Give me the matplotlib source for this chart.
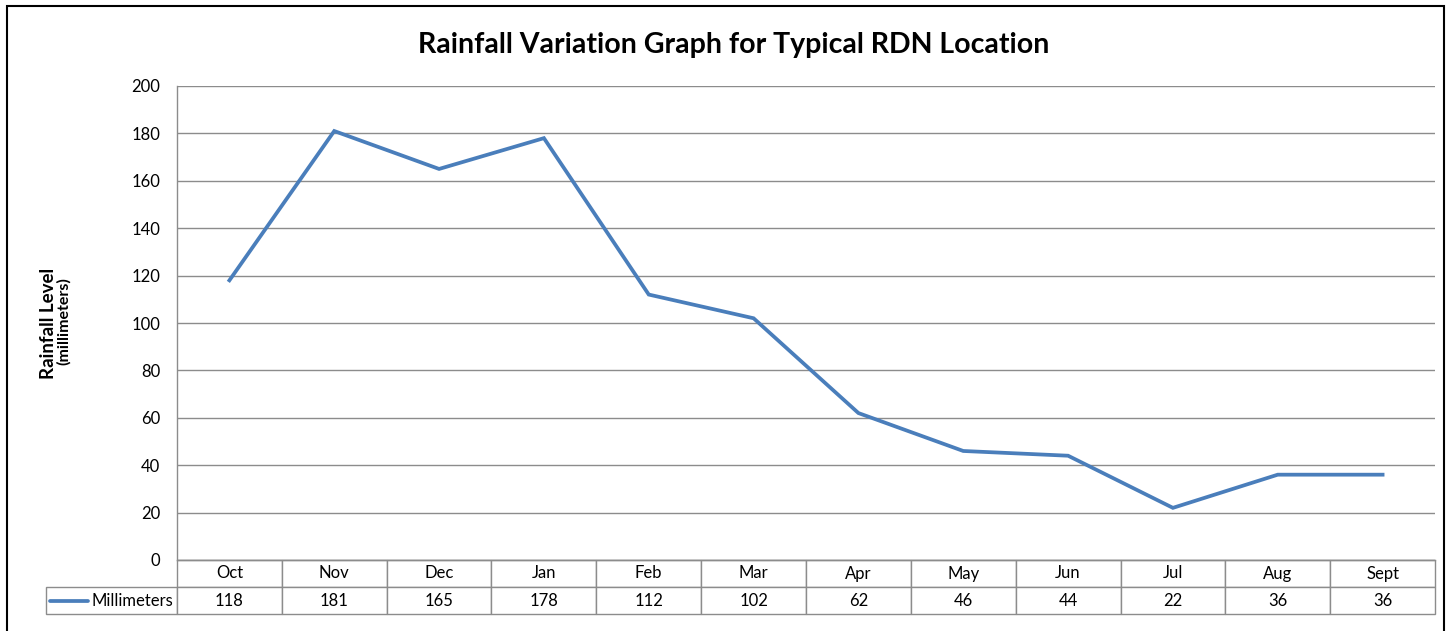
import matplotlib
matplotlib.use("Agg")
import matplotlib.pyplot as plt
from matplotlib.patches import Rectangle
from matplotlib.lines import Line2D
from matplotlib.table import Table

months = ["Oct", "Nov", "Dec", "Jan", "Feb", "Mar", "Apr", "May", "Jun", "Jul", "Aug", "Sept"]
millimeters = [118, 181, 165, 178, 112, 102, 62, 46, 44, 22, 36, 36]
series_name = "Millimeters"
y_ticks = [0, 20, 40, 60, 80, 100, 120, 140, 160, 180, 200]
title = "Rainfall Variation Graph for Typical RDN Location"

plt.rcParams['font.family'] = ['Lato', 'DejaVu Sans']

W, H = 1448, 631
fig = plt.figure(figsize=(W / 100, H / 100), dpi=100)
fig.patch.set_facecolor("white")

L, R, T, B = 177, 1435, 86, 560
ax = fig.add_axes([L / W, 1 - B / H, (R - L) / W, (B - T) / H])

line_color = "#4a7ebb"
grid_color = "#8c8c8c"
x = list(range(len(months)))
ax.plot(x, millimeters, color=line_color, lw=2.7, solid_joinstyle="miter", zorder=3)

ax.set_xlim(-0.5, len(months) - 0.5)
ax.set_ylim(0, 200)
ax.set_yticks(y_ticks)
ax.set_yticklabels([str(v) for v in y_ticks], fontsize=12)
ax.set_xticks([])
ax.tick_params(axis="y", length=0, pad=12)
ax.yaxis.grid(True, color=grid_color, lw=1)
ax.set_axisbelow(True)
for s in ["top", "right"]:
    ax.spines[s].set_visible(False)
for s in ["left", "bottom"]:
    ax.spines[s].set_color(grid_color)
    ax.spines[s].set_linewidth(1)

# data table
tbl_h = (614 - 560) / (B - T)
label_w = (L - 46) / (R - L)
n = len(months)
table = Table(ax, bbox=[0, -tbl_h, 1, tbl_h])
cw = 1 / n
rh = tbl_h / 2
for j, m in enumerate(months):
    table.add_cell(0, j, width=cw, height=rh, text=m, loc="center")
    table.add_cell(1, j, width=cw, height=rh, text=str(millimeters[j]), loc="center")
table.add_cell(1, -1, width=label_w, height=rh, text=series_name, loc="right")
table.auto_set_font_size(False)
table.set_fontsize(12)
for (r, c), cell in table.get_celld().items():
    cell.set_edgecolor(grid_color)
    cell.set_linewidth(1)
    if c == -1:
        cell.PAD = 0.025
ax.add_table(table)

# legend key in row label
fig.add_artist(Line2D([50 / W, 88 / W], [1 - 601 / H, 1 - 601 / H],
                      color=line_color, lw=2.7, solid_capstyle="round"))

# y labels
fig.text(49 / W, 1 - 323 / H, "Rainfall Level", rotation=90, fontsize=13.5,
         fontweight="bold", ha="center", va="center")
fig.text(64 / W, 1 - 321 / H, "(millimeters)", rotation=90, fontsize=11.5,
         fontweight="bold", ha="center", va="center")

# title
fig.text(734 / W, 1 - 45 / H, title, fontsize=20.5, fontweight="bold",
         ha="center", va="center")

# outer frame
fig.add_artist(Rectangle((7 / W, -0.05), (1444 - 7) / W, 1 - 6 / H + 0.05,
                         transform=fig.transFigure, fill=False,
                         edgecolor="black", lw=1.5))

fig.savefig("out.png", dpi=100)
